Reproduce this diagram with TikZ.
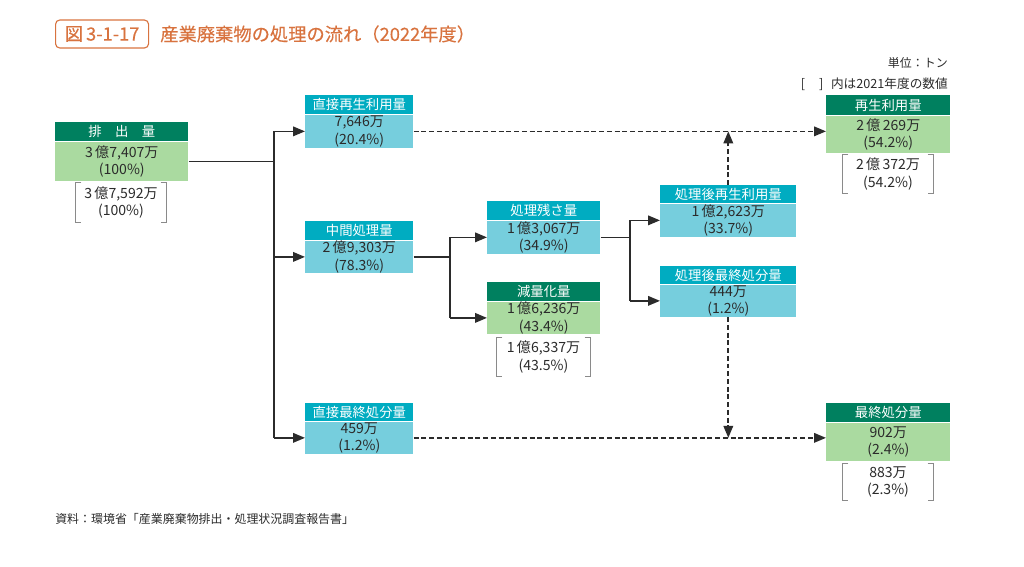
\documentclass[tikz,border=0pt]{standalone}
\usepackage{fontspec}
\setmainfont{Noto Sans CJK JP}
\usepackage{xcolor}
\usetikzlibrary{arrows.meta}

\definecolor{dkgreen}{HTML}{00805F}
\definecolor{ltgreen}{HTML}{AADAA0}
\definecolor{dkcyan}{HTML}{00ACC1}
\definecolor{ltcyan}{HTML}{76CEDD}
\definecolor{txtgray}{HTML}{2B2B2B}
\definecolor{brkgray}{HTML}{8A8A8A}
\definecolor{orng}{HTML}{D8733F}

\begin{document}
\begin{tikzpicture}[x=0.025cm, y=-0.025cm,
		hdg/.style={fill=dkgreen, text=white, inner sep=0pt, anchor=north west, font=\fontsize{9.5}{11}\selectfont},
		bdg/.style={fill=ltgreen, text=txtgray, inner sep=0pt, anchor=north, align=center, font=\fontsize{10}{12.5}\selectfont},
		hdc/.style={hdg, fill=dkcyan},
		bdc/.style={bdg, fill=ltcyan},
		prev/.style={text=txtgray, inner sep=0pt, align=center, font=\fontsize{10}{12.5}\selectfont},
		brk/.style={brkgray, line width=0.6pt},
		conn/.style={txtgray, line width=1.2pt},
		arr/.style={conn, -{Triangle[length=3mm, width=2.4mm]}},
		dashline/.style={arr, dash pattern=on 3.5pt off 2pt},
		note/.style={text=txtgray, inner sep=0pt, font=\fontsize{8.5}{10}\selectfont}]
		
		\useasboundingbox (0,0) rectangle (1024,566);
		
		\node [draw=orng, text=orng, line width=0.8pt, rounded corners=3pt, minimum width=2.325cm, minimum height=0.7cm, anchor=west, font=\fontsize{13}{15}\selectfont\addfontfeatures{FakeBold=0.3}] (figno) at (55,34) {図\,3-1-17};
		\node [text=orng, anchor=west, inner sep=0pt, font=\fontsize{13}{15}\selectfont\addfontfeatures{FakeBold=0.3}] (title) at (160,34) {産業廃棄物の処理の流れ（2022年度）};
		
		\node [note, anchor=east] (unit) at (948,63) {単位：トン};
		\node [note, anchor=east, font=\fontsize{9}{10}\selectfont] (legend) at (948,84) {[\hspace{1.1em}]\hspace{0.6em}内は2021年度の数値};
		
		% boxes
		\node [hdg, minimum width=3.325cm, minimum height=0.475cm] (emitH) at (55,122) {排\hspace{1em}出\hspace{1em}量};
		\node [bdg, minimum width=3.325cm, minimum height=0.975cm] (emit) at (emitH.south) {3\,億7,407万\\(100\%)};
		
		\node [hdc, minimum width=2.7cm, minimum height=0.475cm] (directH) at (305,95) {直接再生利用量};
		\node [bdc, minimum width=2.7cm, minimum height=0.825cm] (direct) at (directH.south) {7,646万\\(20.4\%)};
		
		\node [hdc, minimum width=2.7cm, minimum height=0.475cm] (midH) at (305,221) {中間処理量};
		\node [bdc, minimum width=2.7cm, minimum height=0.8cm] (mid) at (midH.south) {2\,億9,303万\\(78.3\%)};
		
		\node [hdc, minimum width=2.7cm, minimum height=0.45cm] (landDH) at (305,403) {直接最終処分量};
		\node [bdc, minimum width=2.7cm, minimum height=0.8cm] (landD) at (landDH.south) {459万\\(1.2\%)};
		
		\node [hdc, minimum width=2.825cm, minimum height=0.475cm] (resH) at (487,201) {処理残さ量};
		\node [bdc, minimum width=2.825cm, minimum height=0.825cm] (res) at (resH.south) {1\,億3,067万\\(34.9\%)};
		
		\node [hdg, minimum width=2.825cm, minimum height=0.475cm] (redH) at (487,282) {減量化量};
		\node [bdg, minimum width=2.825cm, minimum height=0.8cm] (red) at (redH.south) {1\,億6,236万\\(43.4\%)};
		
		\node [hdc, minimum width=3.4cm, minimum height=0.45cm] (recAH) at (660,185) {処理後再生利用量};
		\node [bdc, minimum width=3.4cm, minimum height=0.825cm] (recA) at (recAH.south) {1\,億2,623万\\(33.7\%)};
		
		\node [hdc, minimum width=3.4cm, minimum height=0.45cm] (finAH) at (660,266) {処理後最終処分量};
		\node [bdc, minimum width=3.4cm, minimum height=0.8cm] (finA) at (finAH.south) {444万\\(1.2\%)};
		
		\node [hdg, minimum width=3.1cm, minimum height=0.5cm] (recH) at (826,95) {再生利用量};
		\node [bdg, minimum width=3.1cm, minimum height=0.925cm] (rec) at (recH.south) {2\,億\,269万\\(54.2\%)};
		
		\node [hdg, minimum width=3.1cm, minimum height=0.475cm] (landH) at (826,403) {最終処分量};
		\node [bdg, minimum width=3.1cm, minimum height=0.95cm] (land) at (landH.south) {902万\\(2.4\%)};
		
		% previous year
		\node [prev, minimum width=2.25cm, minimum height=0.975cm] (emitP) at (121,202.5) {3\,億7,592万\\(100\%)};
		\node [prev, minimum width=2.325cm, minimum height=0.95cm] (redP) at (543.5,357) {1\,億6,337万\\(43.5\%)};
		\node [prev, minimum width=2.25cm, minimum height=0.95cm] (recP) at (888,174) {2\,億\,372万\\(54.2\%)};
		\node [prev, minimum width=2.25cm, minimum height=0.9cm] (landP) at (888,482) {883万\\(2.3\%)};
		
		\foreach \n in {emitP, redP, recP, landP} {
			\draw [brk] ([xshift=4pt]\n.north west) -- (\n.north west) -- (\n.south west) -- ([xshift=4pt]\n.south west);
			\draw [brk] ([xshift=-4pt]\n.north east) -- (\n.north east) -- (\n.south east) -- ([xshift=-4pt]\n.south east);
		}
		
		% flows
		\coordinate (j1) at (274,155);
		\coordinate (j2) at (450,253);
		\coordinate (j3) at (630,234);
		
		\draw [conn] (emit.east) -- (emit.east -| j1);
		\draw [conn] (j1 |- direct.west) -- (j1 |- landD.west);
		\foreach \n in {direct, mid, landD}
			\draw [arr] (j1 |- \n.west) -- (\n.west);
		
		\draw [conn] (mid.east) -- (mid.east -| j2);
		\draw [conn] (j2 |- res.west) -- (j2 |- red.west);
		\foreach \n in {res, red}
			\draw [arr] (j2 |- \n.west) -- (\n.west);
		
		\draw [conn] (res.east) -- (res.east -| j3);
		\draw [conn] (j3 |- recA.west) -- (j3 |- finA.west);
		\foreach \n in {recA, finA}
			\draw [arr] (j3 |- \n.west) -- (\n.west);
		
		\draw [dashline] (direct.east) -- (direct.east -| rec.west);
		\draw [dashline] (landD.east) -- (landD.east -| land.west);
		\draw [dashline] (recAH.north) -- (recAH.north |- direct.east);
		\draw [dashline] (finA.south) -- (finA.south |- landD.east);
		
		\node [note, anchor=west] (source) at (55,519) {資料：環境省「産業廃棄物排出・処理状況調査報告書」};
	\end{tikzpicture}
\end{document}
